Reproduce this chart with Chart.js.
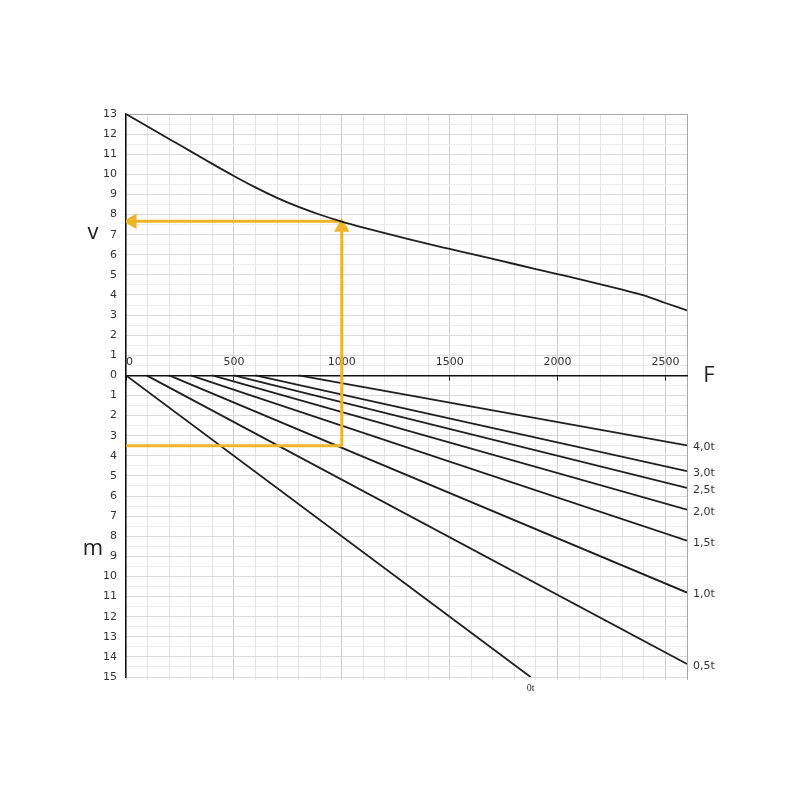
<!DOCTYPE html>
<html>
<head>
<meta charset="utf-8">
<script src="https://cdn.jsdelivr.net/npm/chart.js@4"></script>
<style>
  body { margin: 0; background: #fff; }
  canvas { display: block; }
</style>
</head>
<body>
<canvas id="diagram" width="800" height="800"></canvas>
<script>
// top half: speed v over force F
const forceValues = [0, 100, 200, 300, 400, 500, 600, 700, 800, 900, 1000, 1100, 1200, 1300,
    1400, 1500, 1600, 1700, 1800, 1900, 2000, 2100, 2200, 2300, 2400, 2500, 2600]
const speedValues = [13.0, 12.38, 11.76, 11.14, 10.52, 9.92, 9.35, 8.83, 8.38, 7.99, 7.65, 7.35, 7.07, 6.8,
    6.54, 6.29, 6.04, 5.79, 5.54, 5.29, 5.04, 4.79, 4.53, 4.26, 3.98, 3.6, 3.23]

// bottom half: m over F, one straight line per load
const loadLabels = ['0t', '0,5t', '1,0t', '1,5t', '2,0t', '2,5t', '3,0t', '4,0t']
const loadStartF = [0, 95, 200, 300, 400, 500, 600, 800]
const loadEndF = [1875, 2600, 2600, 2600, 2600, 2600, 2600, 2600]
const loadEndM = [15, 14.35, 10.8, 8.22, 6.68, 5.6, 4.76, 3.48]

// reading example (orange)
const readF = 1000
const readV = 7.67
const readM = 3.5

const xTickLabels = [0, 500, 1000, 1500, 2000, 2500]

const orange = '#f0b429'
const ink = '#1e1e1e'
const textColor = '#333'

const speedData = forceValues.map((f, i) => ({ x: f, y: speedValues[i] }))

const datasets = [{
    data: speedData,
    showLine: true,
    borderColor: ink,
    borderWidth: 1.8,
    pointRadius: 0,
    cubicInterpolationMode: 'monotone'
}, {
    // horizontal arrow to v axis
    data: [{ x: readF, y: readV }, { x: 28, y: readV }],
    showLine: true,
    borderColor: orange,
    backgroundColor: orange,
    borderWidth: 3,
    pointStyle: 'triangle',
    pointRadius: [0, 6],
    rotation: [0, 270]
}, {
    // vertical arrow up to the curve
    data: [{ x: readF, y: -readM }, { x: readF, y: readV - 0.3 }],
    showLine: true,
    borderColor: orange,
    backgroundColor: orange,
    borderWidth: 3,
    pointStyle: 'triangle',
    pointRadius: [0, 6],
    rotation: [0, 0]
}, {
    data: [{ x: 0, y: -readM }, { x: readF, y: -readM }],
    showLine: true,
    borderColor: orange,
    borderWidth: 3,
    pointRadius: 0
}]

loadLabels.forEach((lbl, i) => {
    datasets.push({
        data: [{ x: loadStartF[i], y: 0 }, { x: loadEndF[i], y: -loadEndM[i] }],
        showLine: true,
        borderColor: ink,
        borderWidth: 1.8,
        pointRadius: 0
    })
})

const labelsPlugin = {
    id: 'diagramLabels',
    afterDatasetsDraw(chart) {
        const ctx = chart.ctx
        const xs = chart.scales.x
        const ys = chart.scales.y
        ctx.save()
        ctx.fillStyle = textColor
        ctx.textBaseline = 'middle'
        ctx.textAlign = 'left'
        ctx.font = '11px "DejaVu Sans"'
        loadLabels.forEach((lbl, i) => {
            if (i === 0) return
            ctx.fillText(lbl, xs.getPixelForValue(loadEndF[i]) + 6, ys.getPixelForValue(-loadEndM[i]) + 2)
        })
        ctx.textAlign = 'center'
        ctx.font = '10px "Liberation Serif"'
        ctx.fillText(loadLabels[0], xs.getPixelForValue(loadEndF[0]), ys.bottom + 11)

        ctx.fillStyle = '#222'
        ctx.font = '22px "Open Sans"'
        ctx.fillText('v', 93, ys.getPixelForValue(7) - 2)
        ctx.fillText('m', 93, ys.getPixelForValue(-8.6))
        ctx.fillText('F', 709, ys.getPixelForValue(0))
        ctx.restore()
    }
}

new Chart(document.querySelector('#diagram'), {
    type: 'scatter',
    data: { datasets: datasets },
    options: {
        responsive: false,
        animation: false,
        devicePixelRatio: 1,
        layout: { padding: { left: 90, right: 113, top: 114, bottom: 119 } },
        plugins: {
            legend: { display: false },
            tooltip: { enabled: false }
        },
        scales: {
            x: {
                type: 'linear',
                min: 0,
                max: 2600,
                position: 'bottom',
                afterFit: (s) => { s.height = 4 },
                ticks: { stepSize: 100, display: false },
                border: { display: false },
                grid: {
                    tickLength: 3,
                    color: (c) => {
                        const v = c.tick ? c.tick.value : 0
                        if (v === 2600) return '#a8a8a8'
                        return v % 500 === 0 ? '#cdcdcd' : '#e4e4e4'
                    }
                }
            },
            x2: {
                type: 'linear',
                min: 0,
                max: 2600,
                position: { y: 0 },
                afterBuildTicks: (s) => { s.ticks = xTickLabels.map((v) => ({ value: v })) },
                ticks: {
                    autoSkip: false,
                    maxRotation: 0,
                    padding: -24,
                    color: textColor,
                    font: { family: 'DejaVu Sans', size: 11 },
                    callback: (v) => v === 0 ? '  0' : String(v)
                },
                border: { color: '#111', width: 1.5 },
                grid: { drawOnChartArea: false, tickLength: 4, color: '#111' }
            },
            y: {
                type: 'linear',
                min: -15,
                max: 13,
                afterFit: (s) => { s.width = 36 },
                ticks: {
                    stepSize: 0.5,
                    autoSkip: false,
                    padding: 9,
                    color: textColor,
                    font: { family: 'DejaVu Sans', size: 11 },
                    callback: (v) => Number.isInteger(v) ? String(Math.abs(v)) : ''
                },
                border: { color: '#111', width: 1.5 },
                grid: {
                    drawTicks: false,
                    color: (c) => {
                        const v = c.tick ? c.tick.value : 0
                        if (v === 13) return '#a8a8a8'
                        return Number.isInteger(v) ? '#dadada' : '#ececec'
                    }
                }
            }
        }
    },
    plugins: [labelsPlugin]
})
</script>
</body>
</html>
